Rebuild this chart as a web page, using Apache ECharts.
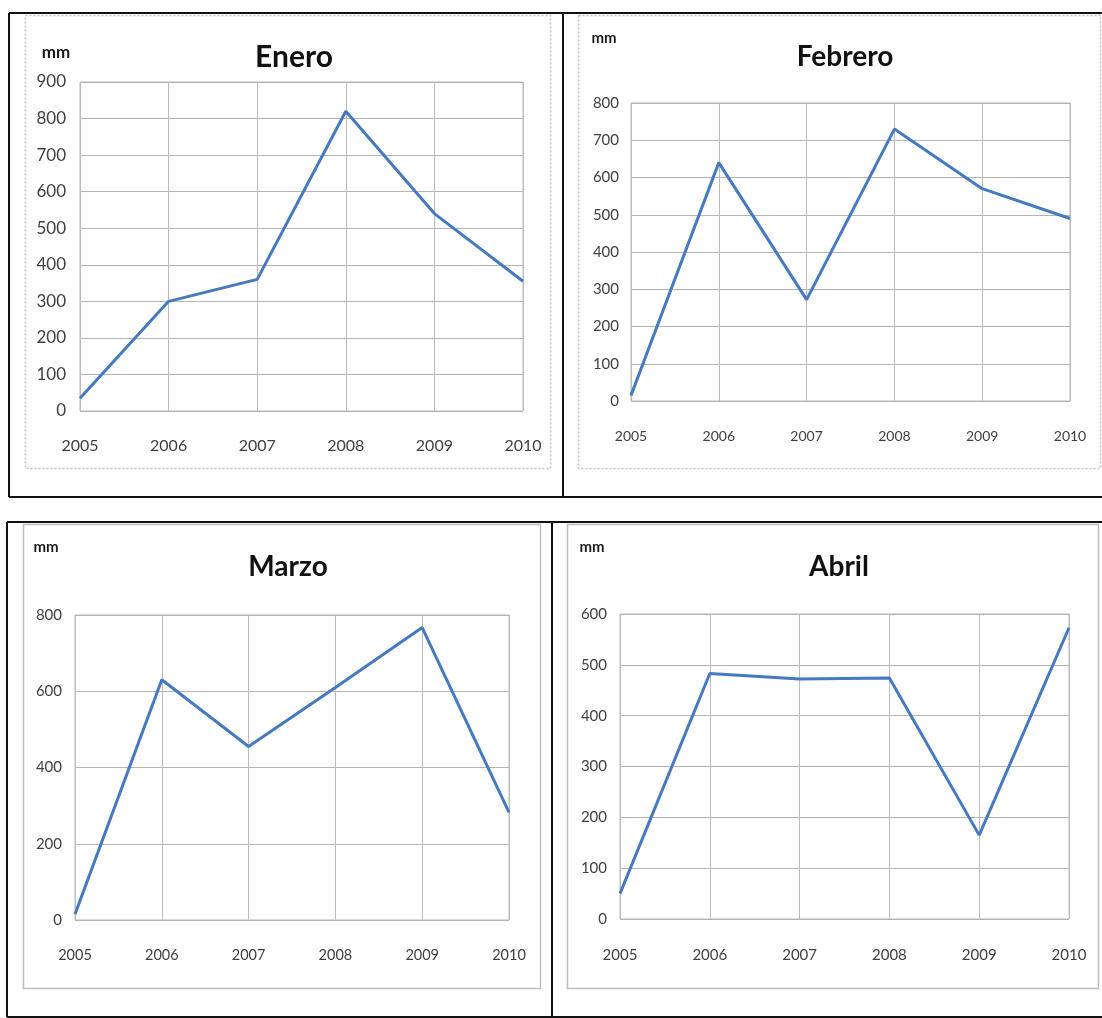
<!DOCTYPE html>
<html>
<head>
<meta charset="utf-8">
<title>Precipitación mensual 2005-2010</title>
<script src="https://cdn.jsdelivr.net/npm/echarts@6/dist/echarts.min.js"></script>
<style>
  html, body { margin: 0; padding: 0; background: #ffffff; }
  #chart { width: 1102px; height: 1018px; }
</style>
</head>
<body>
<div id="chart"></div>
<script>
// Years shown on every panel
const years = ['2005', '2006', '2007', '2008', '2009', '2010'];

// Monthly rainfall (mm) per year
const enero   = [35, 300, 360, 820, 540, 355];
const febrero = [15, 640, 272, 730, 570, 490];
const marzo   = [15, 630, 455, 610, 767, 282];
const abril   = [50, 483, 472, 474, 165, 573];

// Panel titles
const monthNames = ['Enero', 'Febrero', 'Marzo', 'Abril'];

const FONT = "Lato, 'Open Sans', sans-serif";
const LINE_BLUE = '#4579c0';

// Layout of each small chart: plot box, y range, title and unit positions
const panels = [
  { data: enero,   grid: { left: 80,  top: 82,  width: 443, height: 329 }, yMax: 900, yStep: 100,
    title: [289, 52], unit: [56, 53], unitSize: 17, tickSize: 17, xSize: 16, yMargin: 14, xMargin: 27, titleSize: 30 },
  { data: febrero, grid: { left: 631, top: 103, width: 439, height: 298 }, yMax: 800, yStep: 100,
    title: [840, 52], unit: [604, 38], unitSize: 15, tickSize: 15, xSize: 14, yMargin: 12, xMargin: 28, titleSize: 28 },
  { data: marzo,   grid: { left: 75,  top: 615, width: 434, height: 305 }, yMax: 800, yStep: 200,
    title: [283, 562], unit: [46, 547], unitSize: 15, tickSize: 15, xSize: 14.5, yMargin: 13, xMargin: 28, titleSize: 28 },
  { data: abril,   grid: { left: 620, top: 614, width: 449, height: 305 }, yMax: 600, yStep: 100,
    title: [834, 562], unit: [592, 547], unitSize: 15, tickSize: 15, xSize: 15, yMargin: 13, xMargin: 29, titleSize: 28 }
];

const grids = [], xAxes = [], yAxes = [], series = [], titles = [];
const unitTexts = [];

panels.forEach((p, i) => {
  grids.push(Object.assign({ show: true, borderColor: '#b8b8b8', borderWidth: 1, backgroundColor: 'transparent' }, p.grid));
  xAxes.push({
    type: 'category', gridIndex: i, data: years, boundaryGap: false,
    axisLine: { show: false }, axisTick: { show: false },
    axisLabel: { color: '#3f3f3f', fontFamily: FONT, fontSize: p.xSize, margin: p.xMargin },
    splitLine: { show: true, lineStyle: { color: '#bcbcbc', width: 1 } }
  });
  yAxes.push({
    type: 'value', gridIndex: i, min: 0, max: p.yMax, interval: p.yStep,
    axisLine: { show: false }, axisTick: { show: false },
    axisLabel: { color: '#3f3f3f', fontFamily: FONT, fontSize: p.tickSize, margin: p.yMargin },
    splitLine: { show: true, lineStyle: { color: '#b4b4b4', width: 1 } }
  });
  series.push({
    type: 'line', xAxisIndex: i, yAxisIndex: i, data: p.data,
    showSymbol: false, symbol: 'none', smooth: false,
    lineStyle: { color: LINE_BLUE, width: 3 }, z: 5
  });
  titles.push({
    text: monthNames[i], left: p.title[0], top: p.title[1], textAlign: 'center', textVerticalAlign: 'middle',
    textStyle: { fontFamily: FONT, fontWeight: 'bold', fontSize: p.titleSize, color: '#111111' }
  });
  unitTexts.push({
    type: 'text', x: p.unit[0], y: p.unit[1],
    style: { text: 'mm', fontFamily: FONT, fontWeight: 'bold', fontSize: p.unitSize, fill: '#1a1a1a', align: 'center', verticalAlign: 'middle' }
  });
});

// Black outer frames of the two rows and light chart-area frames
const frameLines = [
  // upper row
  [9, 13, 1102, 13], [9, 13, 9, 497], [563, 13, 563, 497], [9, 497, 1102, 497],
  // lower row
  [7, 522, 1102, 522], [7, 522, 7, 1017], [552, 522, 552, 1017], [7, 1017, 1102, 1017]
].map(l => ({
  type: 'line', shape: { x1: l[0], y1: l[1], x2: l[2], y2: l[3] },
  style: { stroke: '#111111', lineWidth: 2 }, z: 1
}));

const chartFrames = [
  { r: [25, 15, 525, 453], dash: [2, 2], color: '#c4bcc6' },
  { r: [578, 15, 522, 453], dash: [2, 2], color: '#c4bcc6' },
  { r: [23, 524, 517, 464], dash: null, color: '#bdbdbd' },
  { r: [567, 524, 531, 464], dash: null, color: '#bdbdbd' }
].map(f => ({
  type: 'rect', shape: { x: f.r[0] + 0.5, y: f.r[1] + 0.5, width: f.r[2], height: f.r[3] },
  style: { fill: 'transparent', stroke: f.color, lineWidth: 1.5, lineDash: f.dash }, z: 0
}));

const chart = echarts.init(document.getElementById('chart'), null, { renderer: 'canvas' });
chart.setOption({
  backgroundColor: '#ffffff',
  animation: false,
  title: titles,
  grid: grids,
  xAxis: xAxes,
  yAxis: yAxes,
  series: series,
  graphic: frameLines.concat(chartFrames, unitTexts)
});
</script>
</body>
</html>
